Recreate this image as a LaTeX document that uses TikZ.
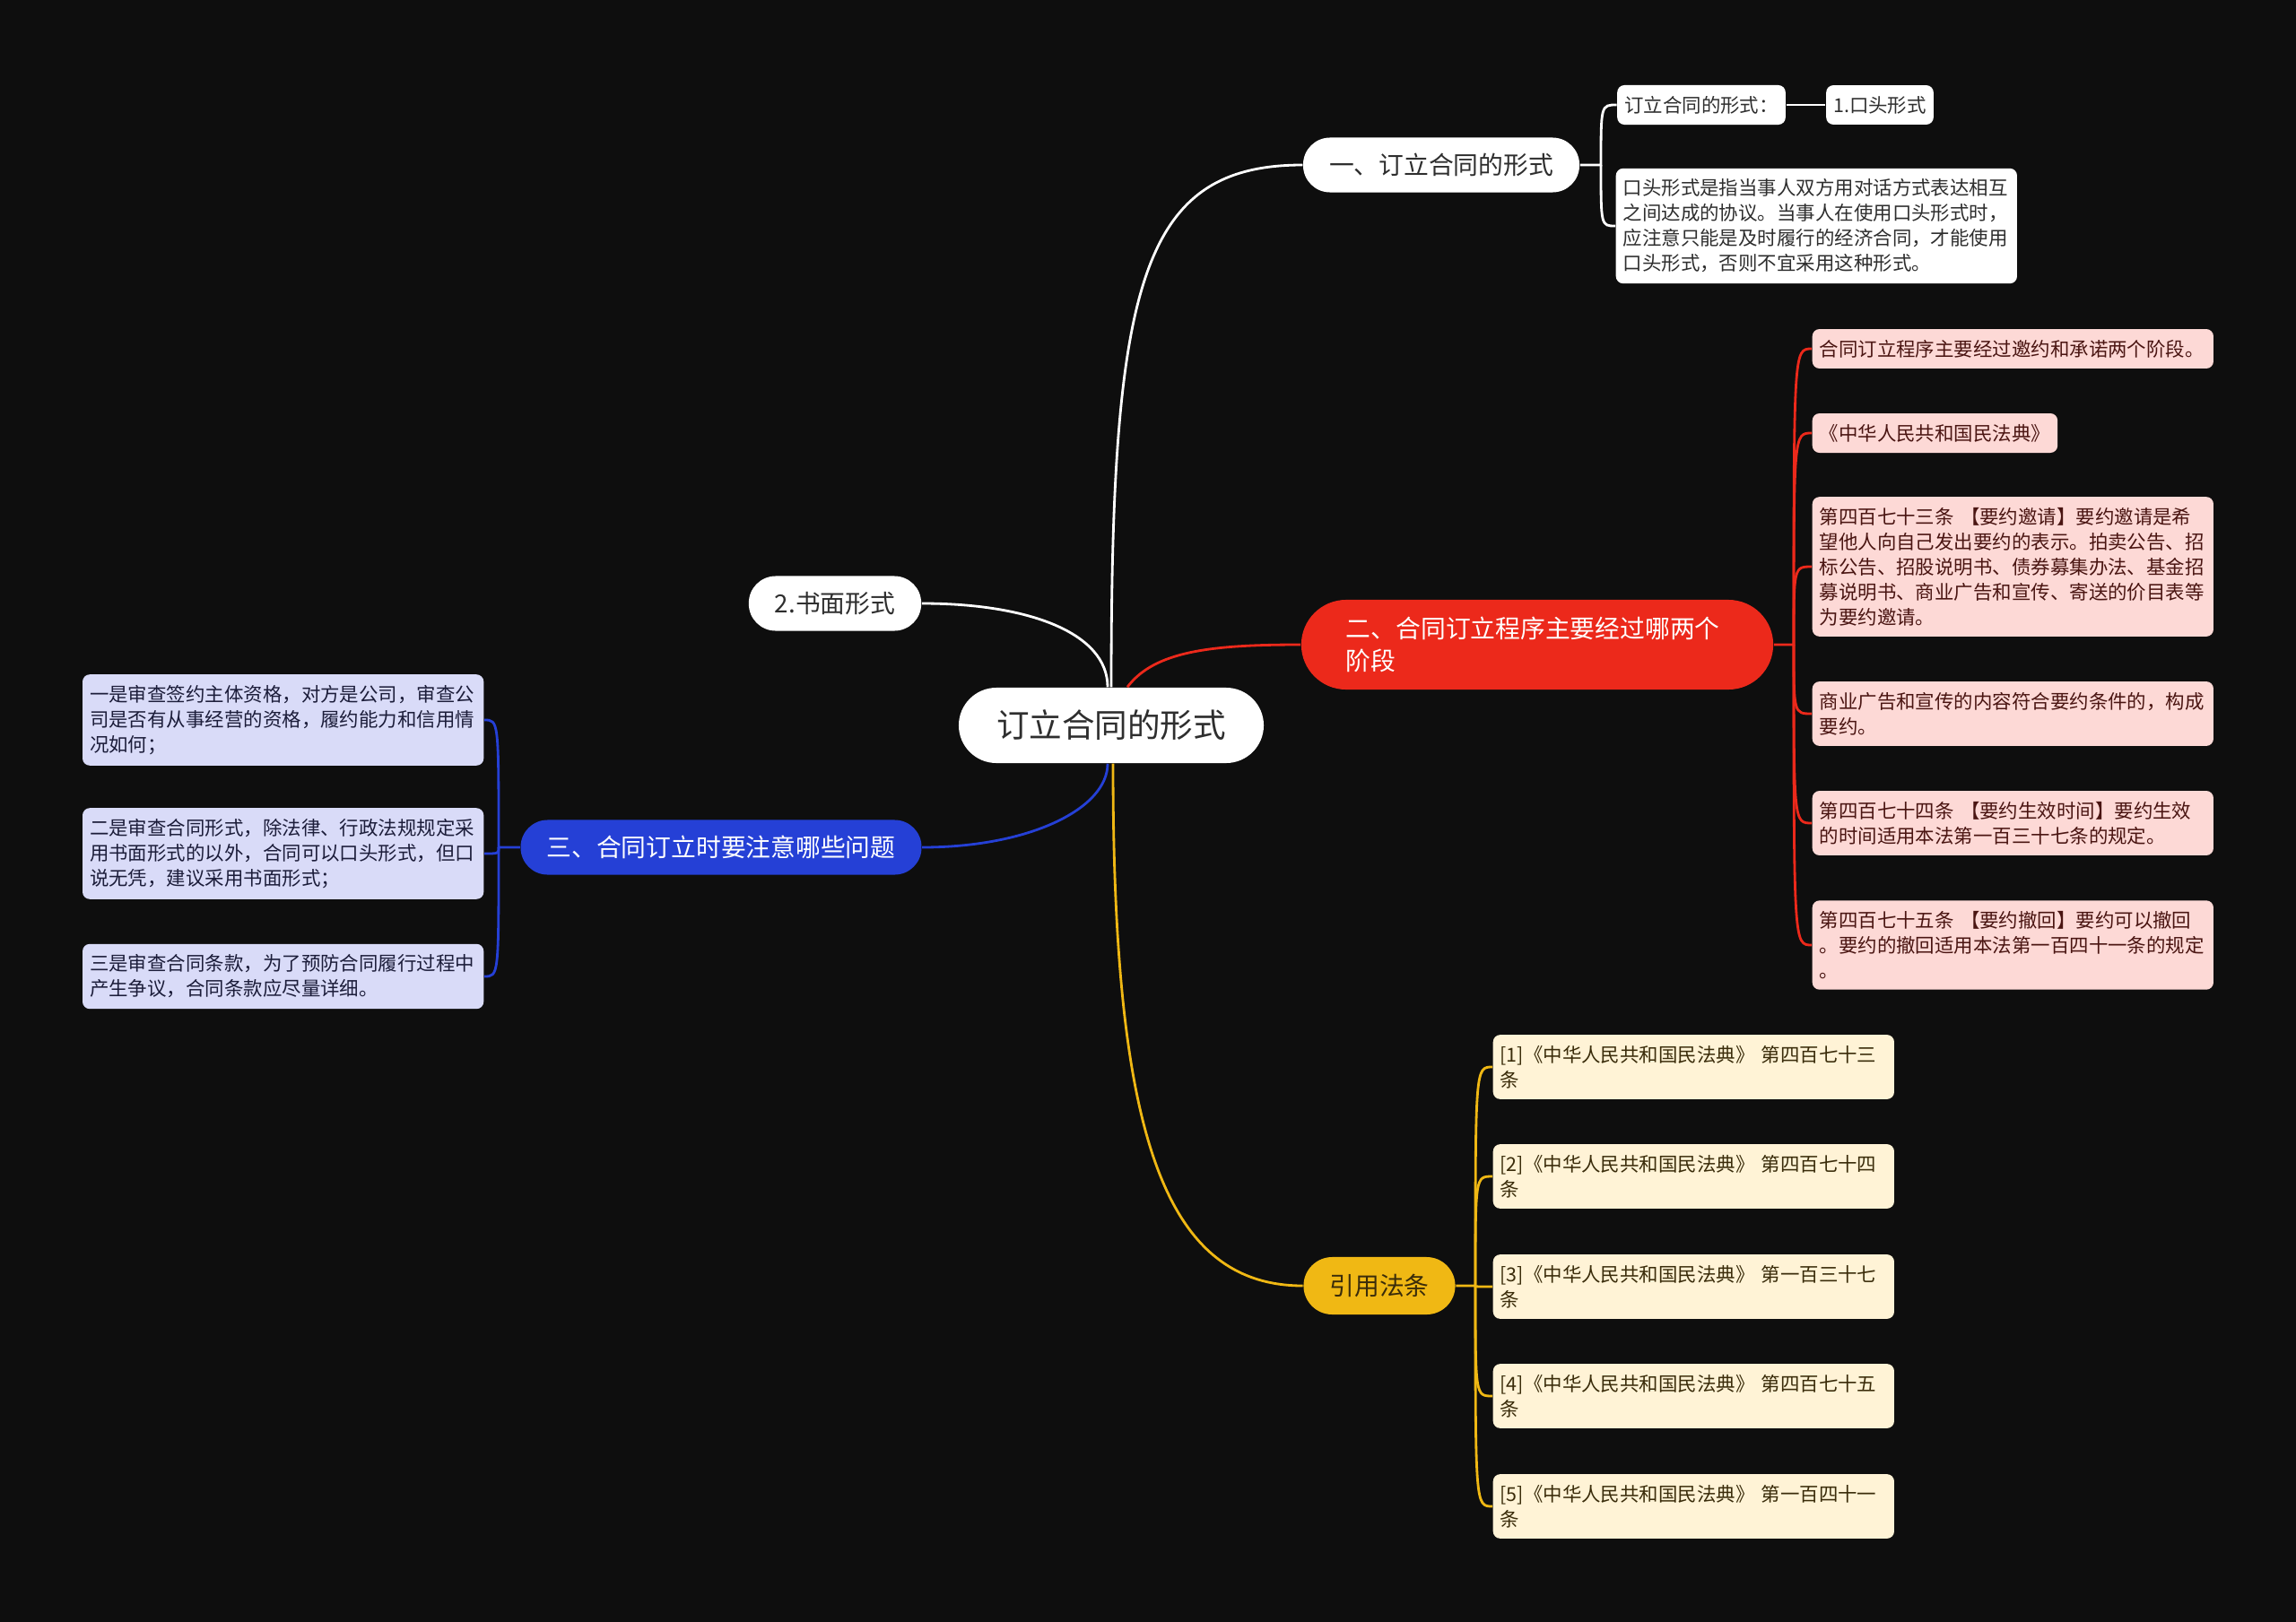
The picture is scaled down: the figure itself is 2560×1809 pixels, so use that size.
\documentclass[tikz,border=0pt]{standalone}
\usepackage{fontspec}
\setmainfont{Noto Sans CJK SC}
\usepackage{xcolor}

\definecolor{bgdark}{HTML}{0E0E0E}
\definecolor{darkgray}{HTML}{2E2E2E}
\definecolor{redmain}{HTML}{EC291B}
\definecolor{redlight}{HTML}{FDD9D6}
\definecolor{redtext}{HTML}{4A1512}
\definecolor{bluemain}{HTML}{2540D6}
\definecolor{bluelight}{HTML}{D9DBF8}
\definecolor{bluetext}{HTML}{1C1D3A}
\definecolor{yellowmain}{HTML}{F0B814}
\definecolor{yellowlight}{HTML}{FFF3D6}
\definecolor{yellowtext}{HTML}{3A2C0A}

\newcommand\rootsize{\fontsize{10.4pt}{12pt}\selectfont}
\newcommand\branchsize{\fontsize{7.9pt}{10.2pt}\selectfont}
\newcommand\leafsize{\fontsize{6.1pt}{7.95pt}\selectfont}

\tikzset{
  rootnode/.style={fill=white, text=darkgray, rounded corners=0.42cm,
    minimum height=0.84cm, inner xsep=0.42cm, font=\rootsize},
  branch/.style={rounded corners=0.3cm, minimum height=0.61cm,
    inner xsep=0.29cm, font=\branchsize},
  leaf/.style={rounded corners=0.08cm, inner xsep=0.08cm, inner ysep=0.12cm,
    align=left, font=\leafsize},
  wide/.style={text width=4.31cm},
  link/.style={line width=0.8pt}
}

\begin{document}
\begin{tikzpicture}[x=0.01cm, y=-0.01cm]
        \path[use as bounding box, fill=bgdark] (0,0) rectangle (2560,1809);

        % Centre
        \node[rootnode] (root) at (1239,809) {订立合同的形式};

        % Main branches
        \node[branch, fill=white, text=darkgray] (b1) at (1607,184) {一、订立合同的形式};   % Top
        \node[branch, fill=white, text=darkgray] (b1c) at (931,673) {2.书面形式};          % Left of centre
        \node[branch, fill=redmain, text=white, rounded corners=0.5cm, minimum height=1cm,
              inner xsep=0.5cm, text width=4.26cm, align=left] (b2) at (1714,719)
              {二、合同订立程序主要经过哪两个\\阶段};                                          % Right
        \node[branch, fill=bluemain, text=white] (b3) at (804,945) {三、合同订立时要注意哪些问题}; % Left
        \node[branch, fill=yellowmain, text=yellowtext, minimum height=0.64cm,
              rounded corners=0.32cm] (b4) at (1538,1434) {引用法条};                        % Bottom

        % Children of the first branch
        \node[leaf, fill=white, text=darkgray] (b1a) at (1897,117) {订立合同的形式：};
        \node[leaf, fill=white, text=darkgray] (b1a1) at (2096,117) {1.口头形式};
        \node[leaf, wide, fill=white, text=darkgray, anchor=west] (b1b) at (1801,252)
              {口头形式是指当事人双方用对话方式表达相互\\之间达成的协议。当事人在使用口头形式时，\\应注意只能是及时履行的经济合同，才能使用\\口头形式，否则不宜采用这种形式。};

        % Children of the red branch
        \node[leaf, wide, fill=redlight, text=redtext, anchor=west] (r1) at (2020,389)
              {合同订立程序主要经过邀约和承诺两个阶段。};
        \node[leaf, fill=redlight, text=redtext, anchor=west] (r2) at (2020,483)
              {《中华人民共和国民法典》};
        \node[leaf, wide, fill=redlight, text=redtext, anchor=west] (r3) at (2020,632)
              {第四百七十三条 【要约邀请】要约邀请是希\\望他人向自己发出要约的表示。拍卖公告、招\\标公告、招股说明书、债券募集办法、基金招\\募说明书、商业广告和宣传、寄送的价目表等\\为要约邀请。};
        \node[leaf, wide, fill=redlight, text=redtext, anchor=west] (r4) at (2020,796)
              {商业广告和宣传的内容符合要约条件的，构成\\要约。};
        \node[leaf, wide, fill=redlight, text=redtext, anchor=west] (r5) at (2020,918)
              {第四百七十四条 【要约生效时间】要约生效\\的时间适用本法第一百三十七条的规定。};
        \node[leaf, wide, fill=redlight, text=redtext, anchor=west] (r6) at (2020,1054)
              {第四百七十五条 【要约撤回】要约可以撤回\\。要约的撤回适用本法第一百四十一条的规定\\。};

        % Children of the blue branch
        \node[leaf, wide, fill=bluelight, text=bluetext, anchor=east] (c1) at (540,803)
              {一是审查签约主体资格，对方是公司，审查公\\司是否有从事经营的资格，履约能力和信用情\\况如何；};
        \node[leaf, wide, fill=bluelight, text=bluetext, anchor=east] (c2) at (540,952)
              {二是审查合同形式，除法律、行政法规规定采\\用书面形式的以外，合同可以口头形式，但口\\说无凭，建议采用书面形式；};
        \node[leaf, wide, fill=bluelight, text=bluetext, anchor=east] (c3) at (540,1089)
              {三是审查合同条款，为了预防合同履行过程中\\产生争议，合同条款应尽量详细。};

        % Children of the yellow branch
        \node[leaf, wide, fill=yellowlight, text=yellowtext, anchor=west] (y1) at (1664,1190)
              {[1]《中华人民共和国民法典》 第四百七十三\\条};
        \node[leaf, wide, fill=yellowlight, text=yellowtext, anchor=west] (y2) at (1664,1312)
              {[2]《中华人民共和国民法典》 第四百七十四\\条};
        \node[leaf, wide, fill=yellowlight, text=yellowtext, anchor=west] (y3) at (1664,1435)
              {[3]《中华人民共和国民法典》 第一百三十七\\条};
        \node[leaf, wide, fill=yellowlight, text=yellowtext, anchor=west] (y4) at (1664,1557)
              {[4]《中华人民共和国民法典》 第四百七十五\\条};
        \node[leaf, wide, fill=yellowlight, text=yellowtext, anchor=west] (y5) at (1664,1680)
              {[5]《中华人民共和国民法典》 第一百四十一\\条};

        % Junctions of the sub branches
        \coordinate (j1) at (1785,184);
        \coordinate (j2) at (2000,719);
        \coordinate (j3) at (556,945);
        \coordinate (j4) at (1645,1434);

        % Draw lines from the centre to the main branches
        \draw[link, white] (root.north) .. controls +(0,-450) and +(-180,0) .. (b1.west);
        \draw[link, white] (b1c.east) .. controls +(120,0) and +(0,-60) .. ([xshift=-0.04cm]root.north);
        \draw[link, redmain] ([xshift=0.18cm]root.north) .. controls +(30,-40) and +(-100,0) .. (b2.west);
        \draw[link, bluemain] ([xshift=-0.04cm]root.south) .. controls +(0,50) and +(120,0) .. (b3.east);
        \draw[link, yellowmain] ([xshift=0.02cm]root.south) .. controls +(0,400) and +(-160,0) .. (b4.west);

        % Draw lines to the sub branches
        \draw[link, white] (b1.east) -- (j1) .. controls (j1 |- b1a.west) .. (b1a.west);
        \draw[link, white] (j1) .. controls (j1 |- b1b.west) .. (b1b.west);
        \draw[link, white] (b1a.east) -- (b1a1.west);

        \draw[link, redmain] (b2.east) -- (j2) .. controls (j2 |- r1.west) .. (r1.west);
        \draw[link, redmain] (j2) .. controls (j2 |- r2.west) .. (r2.west);
        \draw[link, redmain] (j2) .. controls (j2 |- r3.west) .. (r3.west);
        \draw[link, redmain] (j2) .. controls (j2 |- r4.west) .. (r4.west);
        \draw[link, redmain] (j2) .. controls (j2 |- r5.west) .. (r5.west);
        \draw[link, redmain] (j2) .. controls (j2 |- r6.west) .. (r6.west);

        \draw[link, bluemain] (b3.west) -- (j3) .. controls (j3 |- c1.east) .. (c1.east);
        \draw[link, bluemain] (j3) .. controls (j3 |- c2.east) .. (c2.east);
        \draw[link, bluemain] (j3) .. controls (j3 |- c3.east) .. (c3.east);

        \draw[link, yellowmain] (b4.east) -- (j4) .. controls (j4 |- y1.west) .. (y1.west);
        \draw[link, yellowmain] (j4) .. controls (j4 |- y2.west) .. (y2.west);
        \draw[link, yellowmain] (j4) .. controls (j4 |- y3.west) .. (y3.west);
        \draw[link, yellowmain] (j4) .. controls (j4 |- y4.west) .. (y4.west);
        \draw[link, yellowmain] (j4) .. controls (j4 |- y5.west) .. (y5.west);

    \end{tikzpicture}
\end{document}
